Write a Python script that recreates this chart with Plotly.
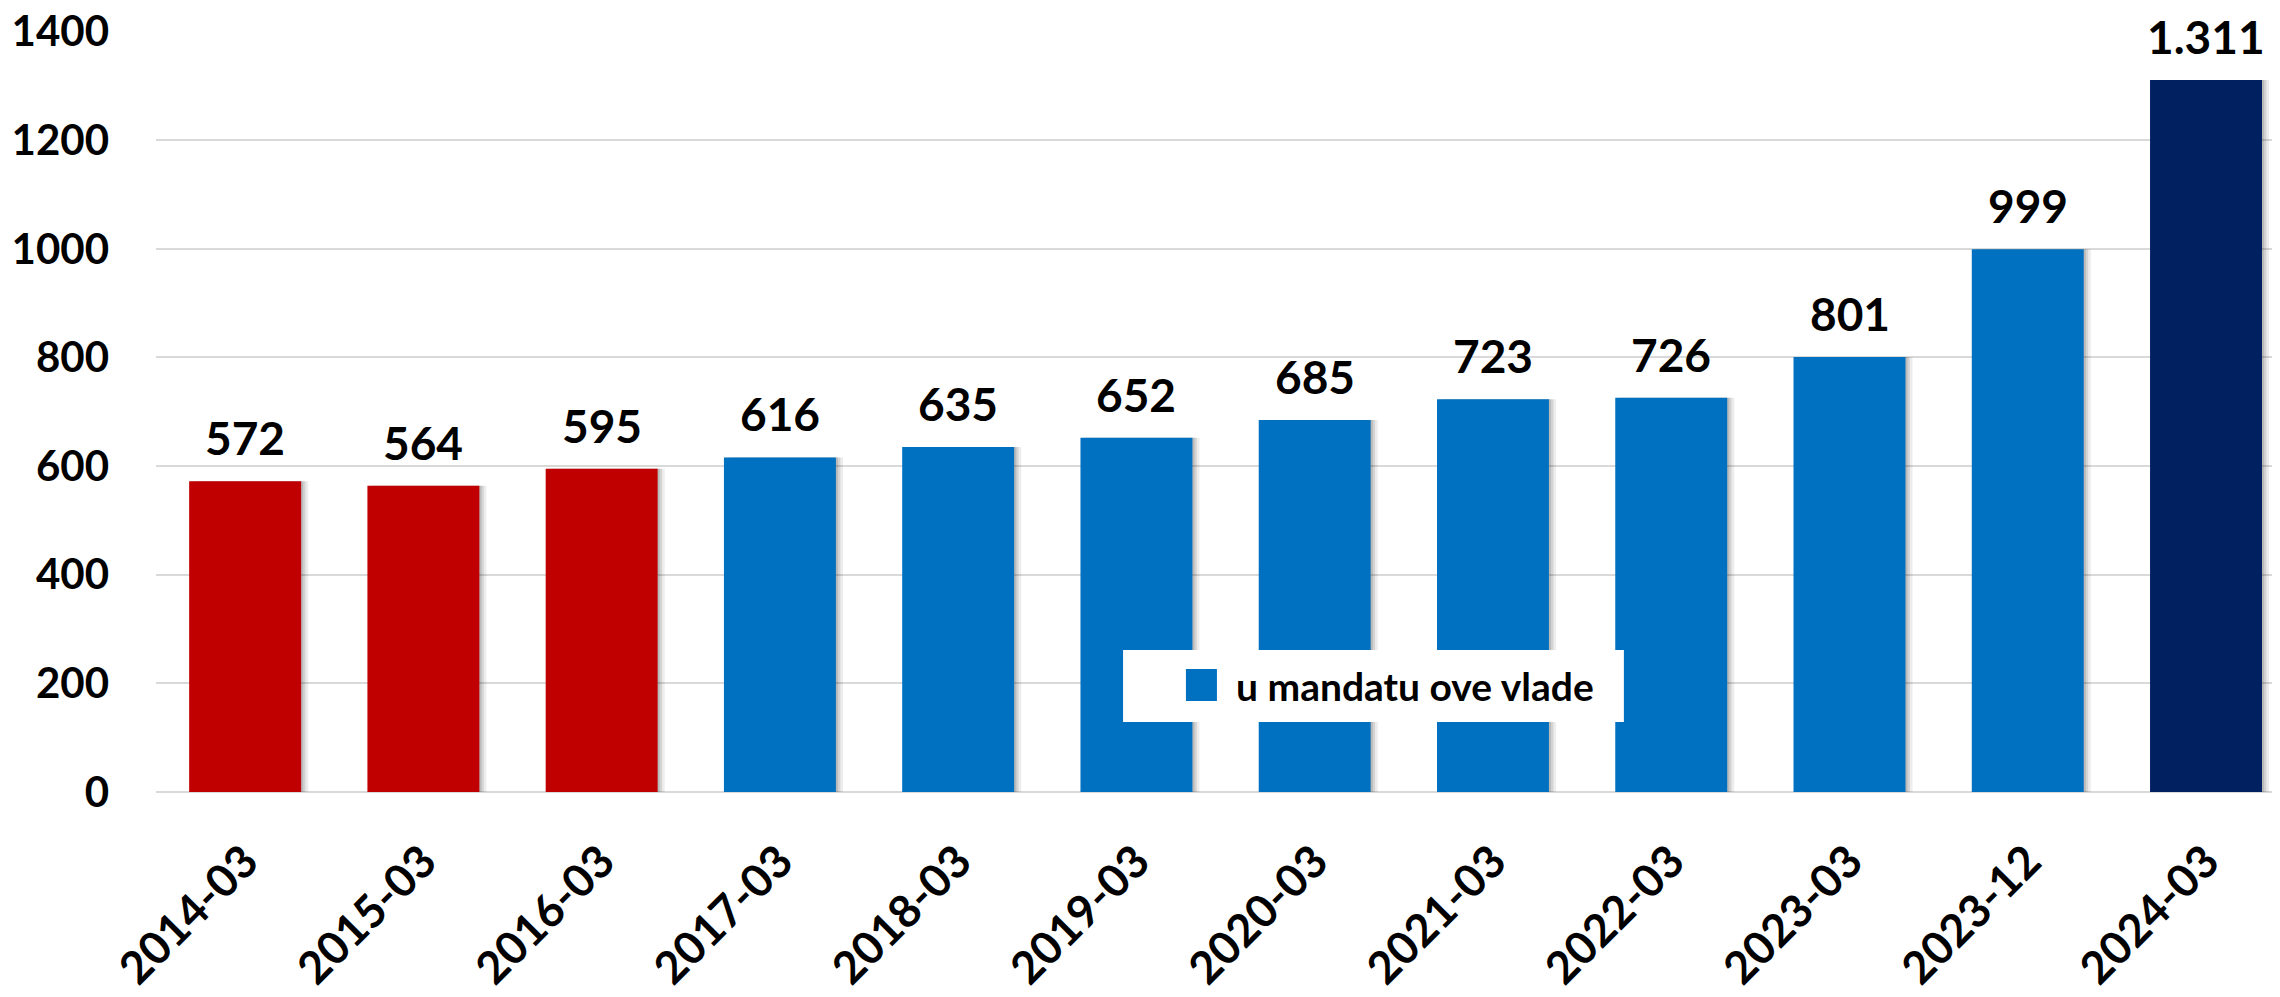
import plotly.graph_objects as go

# Podaci
periods = ['2014-03', '2015-03', '2016-03', '2017-03', '2018-03', '2019-03',
           '2020-03', '2021-03', '2022-03', '2023-03', '2023-12', '2024-03']
values = [572, 564, 595, 616, 635, 652, 685, 723, 726, 801, 999, 1311]
groups = ['prije', 'prije', 'prije', 'vlada', 'vlada', 'vlada',
          'vlada', 'vlada', 'vlada', 'vlada', 'vlada', 'zadnji']
legend_name = 'u mandatu ove vlade'

colors = {'prije': '#C00000', 'vlada': '#0070C0', 'zadnji': '#002060'}
bar_colors = [colors[g] for g in groups]

BAR_W = 0.628
FONT = 'Lato'

fig = go.Figure()

# soft shadow behind the bars
for shift, alpha in [(0.04, 0.07), (0.025, 0.10), (0.012, 0.12)]:
    fig.add_trace(go.Bar(
        x=periods, y=values, width=BAR_W, offset=-BAR_W / 2 + shift,
        marker=dict(color=f'rgba(0,0,0,{alpha})', line=dict(width=0)),
        hoverinfo='skip', showlegend=False))

fig.add_trace(go.Bar(
    x=periods, y=values, width=BAR_W, offset=-BAR_W / 2,
    marker=dict(color=bar_colors, line=dict(width=0)),
    name=legend_name, showlegend=False))

# value labels (thousands separator is a dot)
for p, v in zip(periods, values):
    fig.add_annotation(x=p, y=v, text=f'{v:,}'.replace(',', '.'),
                       showarrow=False, yanchor='bottom', yshift=14,
                       font=dict(family=FONT, size=46, color='black', weight='bold'))

# legend box drawn on top of the bars
fig.add_shape(type='rect', xref='paper', yref='paper',
              x0=0.4553, x1=0.6911, y0=0.092, y1=0.1866,
              fillcolor='white', line=dict(width=0), layer='above')
fig.add_shape(type='rect', xref='paper', yref='paper',
              x0=0.4849, x1=0.4995, y0=0.1196, y1=0.1616,
              fillcolor=colors['vlada'], line=dict(width=0), layer='above')
fig.add_annotation(xref='paper', yref='paper', x=0.5075, y=0.139,
                   xanchor='left', yanchor='middle', showarrow=False,
                   text=legend_name,
                   font=dict(family=FONT, size=39, color='black', weight='bold'))

# page body has an 8px margin, so the figure is 8px smaller and shifted
fig.update_layout(
    width=2272, height=989,
    margin=dict(l=148, r=0, t=23, b=205, autoexpand=False),
    barmode='overlay',
    plot_bgcolor='white', paper_bgcolor='white',
    showlegend=False,
    font=dict(family=FONT, color='black'),
)
fig.update_xaxes(
    type='category', categoryorder='array', categoryarray=periods,
    range=[-0.5, 11.415], tickangle=-45, showgrid=False, showline=False,
    automargin=False, ticklabelstandoff=33, ticklabeloverflow='allow',
    tickfont=dict(family=FONT, size=45, color='black', weight='bold'))
fig.update_yaxes(
    range=[0, 1401], tickvals=[0, 200, 400, 600, 800, 1000, 1200, 1400],
    showgrid=True, gridcolor='#D9D9D9', gridwidth=2,
    zeroline=True, zerolinecolor='#D9D9D9', zerolinewidth=2, showline=False,
    automargin=False, ticklabelstandoff=46, ticklabeloverflow='allow',
    tickfont=dict(family=FONT, size=42, color='black', weight='bold'))

fig.write_html('out.html')
